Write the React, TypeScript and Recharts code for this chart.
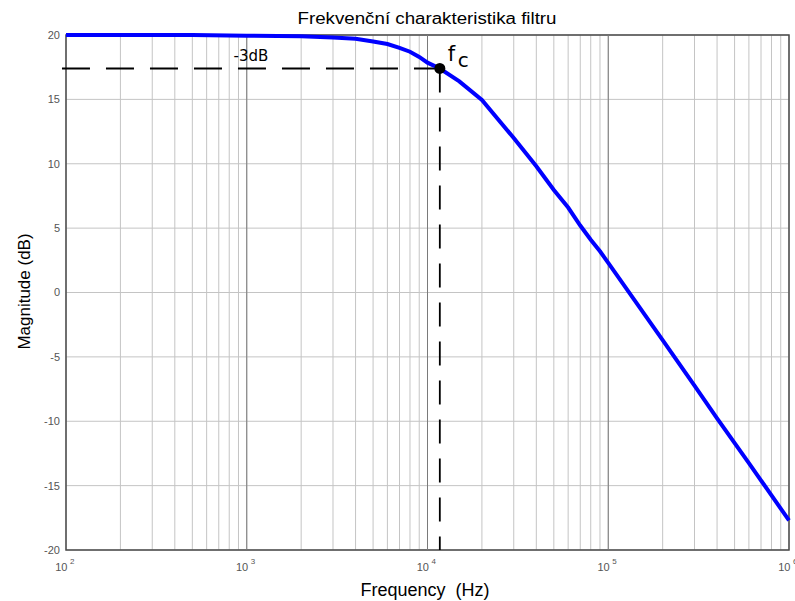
import React from 'react';
import {
  ComposedChart,
  Line,
  XAxis,
  YAxis,
  CartesianGrid,
  ReferenceLine,
  ReferenceDot,
  ReferenceArea,
  Customized,
} from 'recharts';

// ---- data ----
const frequencies = [
  100, 200, 500, 1000, 2000, 3000, 4000, 5000, 6000, 7000, 8000, 9000, 10000,
  11700, 15000, 20000, 30000, 40000, 50000, 60000, 70000, 80000, 90000, 100000,
  200000, 300000, 400000, 600000, 1000000,
];
const magnitudes = [
  20, 20, 20, 19.95, 19.9, 19.8, 19.7, 19.5, 19.3, 19.0, 18.7, 18.3, 17.85,
  17.4, 16.4, 14.95, 12.0, 9.8, 7.96, 6.6, 5.2, 4.1, 3.2, 2.3,
  -3.7, -7.24, -9.77, -13.25, -17.7,
];

const xTicks = [
  100, 200, 300, 400, 500, 600, 700, 800, 900,
  1000, 2000, 3000, 4000, 5000, 6000, 7000, 8000, 9000,
  10000, 20000, 30000, 40000, 50000, 60000, 70000, 80000, 90000,
  100000, 200000, 300000, 400000, 500000, 600000, 700000, 800000, 900000,
  1000000,
];
const decades = [100, 1000, 10000, 100000, 1000000];
const yTicks = [-20, -15, -10, -5, 0, 5, 10, 15, 20];

const FC = 11700;
const FC_DB = 17.4;
const GUIDE_START = 95;

const title = 'Frekvenční charakteristika filtru';
const xLabel = 'Frequency  (Hz)';
const yLabel = 'Magnitude (dB)';
const cutoffLabel = '-3dB';

const data = frequencies.map((f, i) => ({ f, m: magnitudes[i] }));

const FONT = '"Liberation Sans", Arial, sans-serif';

const XTick = (props: any) => {
  const { x, y, payload } = props;
  const v = payload.value;
  if (!decades.includes(v)) return <g />;
  const exp = Math.round(Math.log10(v));
  return (
    <g>
      <text x={x + 1.5} y={y + 21} textAnchor="end" fontSize={11} fill="#555" fontFamily={FONT}>
        10
      </text>
      <text x={x + 4} y={y + 14} textAnchor="start" fontSize={8} fill="#555" fontFamily={FONT}>
        {exp}
      </text>
    </g>
  );
};

const FcLabel = (props: any) => {
  const vb = props.viewBox || {};
  const cx = vb.x + vb.width / 2;
  const cy = vb.y + vb.height / 2;
  return (
    <g>
      <text x={cx + 8} y={cy - 7.5} fontSize={21} fill="#000" fontFamily='"DejaVu Sans", sans-serif'>
        f
      </text>
      <text x={cx + 18} y={cy - 1.5} fontSize={20} fill="#000" fontFamily='"DejaVu Sans", sans-serif'>
        c
      </text>
    </g>
  );
};

const Texts = () => (
  <g>
    <text
      x={427}
      y={24}
      textAnchor="middle"
      fontSize={16}
      fill="#000"
      fontFamily={FONT}
      textLength={259}
      lengthAdjust="spacingAndGlyphs"
    >
      {title}
    </text>
    <text
      x={425}
      y={596}
      textAnchor="middle"
      fontSize={18}
      fill="#000"
      fontFamily={FONT}
      style={{ whiteSpace: 'pre' }}
    >
      {xLabel}
    </text>
    <text
      x={0}
      y={0}
      transform="translate(30 291.5) rotate(-90)"
      textAnchor="middle"
      fontSize={17}
      fill="#000"
      fontFamily={FONT}
    >
      {yLabel}
    </text>
  </g>
);

export default function App() {
  return (
    <div style={{ position: 'absolute', left: 0, top: 0, width: 795, height: 601, background: '#fff' }}>
      <ComposedChart
        width={795}
        height={601}
        data={data}
        margin={{ top: 35, right: 6, bottom: 21, left: 0 }}
      >
        <CartesianGrid stroke="#c4c4c4" strokeWidth={1} />
        <XAxis
          dataKey="f"
          type="number"
          scale="log"
          domain={[100, 1000000]}
          ticks={xTicks}
          interval={0}
          tick={<XTick />}
          tickLine={false}
          axisLine={false}
          tickSize={0}
          tickMargin={0}
          height={30}
        />
        <YAxis
          type="number"
          domain={[-20, 20]}
          ticks={yTicks}
          interval={0}
          width={66}
          tickLine={false}
          axisLine={false}
          tickSize={0}
          tickMargin={6}
          tick={{ fontSize: 11, fill: '#555', fontFamily: FONT }}
        />
        {decades.slice(1, 4).map((d) => (
          <ReferenceLine key={d} x={d} stroke="#7a7a7a" strokeWidth={1} />
        ))}
        <ReferenceArea
          x1={100}
          x2={1000000}
          y1={-20}
          y2={20}
          fill="none"
          fillOpacity={0}
          stroke="#4a4a4a"
          strokeWidth={1.5}
        />
        <ReferenceLine
          segment={[
            { x: GUIDE_START, y: FC_DB },
            { x: FC, y: FC_DB },
          ]}
          stroke="#000"
          strokeWidth={1.8}
          strokeDasharray="28 16"
          ifOverflow="visible"
          label={{
            value: cutoffLabel,
            position: 'top',
            offset: 7,
            fill: '#000',
            fontSize: 15,
            fontFamily: '"DejaVu Sans", sans-serif',
          }}
        />
        <ReferenceLine
          segment={[
            { x: FC, y: FC_DB },
            { x: FC, y: -20 },
          ]}
          stroke="#000"
          strokeWidth={1.8}
          strokeDasharray="24 15"
          ifOverflow="visible"
        />
        <Line
          dataKey="m"
          type="linear"
          stroke="#0000ff"
          strokeWidth={4}
          dot={false}
          activeDot={false}
          isAnimationActive={false}
        />
        <ReferenceDot
          x={FC}
          y={FC_DB}
          r={5.5}
          fill="#000"
          stroke="none"
          label={<FcLabel />}
        />
        <Customized component={Texts} />
      </ComposedChart>
    </div>
  );
}
